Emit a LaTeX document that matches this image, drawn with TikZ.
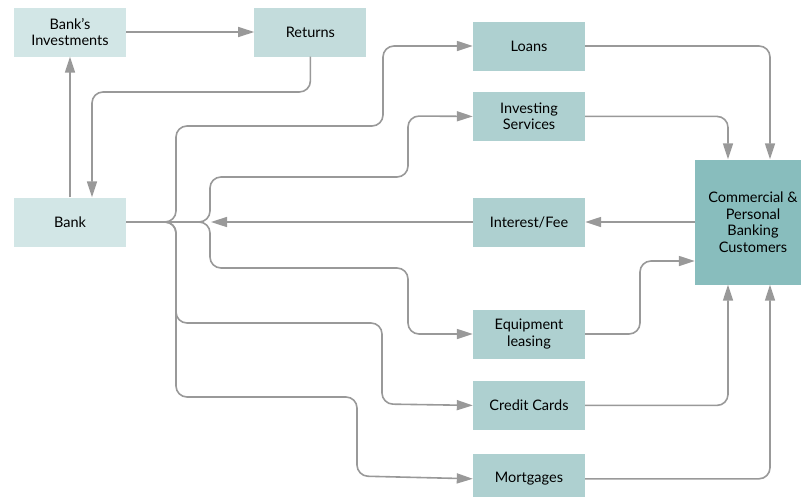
\documentclass[tikz,border=0pt]{standalone}
\usepackage{fontspec}
\setmainfont{Lato}
\usetikzlibrary{arrows.meta, positioning}
\definecolor{boxlight}{HTML}{D2E6E6}
\definecolor{boxret}{HTML}{C3DCDC}
\definecolor{boxmid}{HTML}{AED0D0}
\definecolor{boxdark}{HTML}{88BDBD}
\definecolor{linegray}{HTML}{999999}
\tikzset{
    %Define standard arrow tip
    >={Triangle[length=16pt,width=10pt]},
    %Define style for boxes
    punkt/.style={
           rectangle,
           fill=boxmid,
           minimum width=112pt,
           minimum height=49pt,
           align=center,
           font=\fontsize{14.5}{16.5}\selectfont},
    % Define arrow style
    pil/.style={
           ->,
           draw=linegray,
           line width=1.6pt,
           rounded corners=11pt}
}

\begin{document}
\begin{tikzpicture}[x=1pt, y=-1pt]
\useasboundingbox (0,0) rectangle (801,496);

% Boxes on the left
\node[punkt, fill=boxlight] (bankinv) at (70,32) {Bank’s\\Investments};
\node[punkt, fill=boxret] (returns) [right = 128pt of bankinv] {Returns};
\node[punkt, fill=boxlight] (bank) at (70,222) {Bank};
% Products
\node[punkt] (loans) at (529,46) {Loans};
\node[punkt] (invserv) [below = 21pt of loans] {Investing\\Services};
\node[punkt] (interest) at (529,222) {Interest/Fee};
\node[punkt] (equip) at (529,334) {Equipment\\leasing};
\node[punkt] (credit) [below = 22pt of equip] {Credit Cards};
\node[punkt] (mort) [below = 24pt of credit] {Mortgages};
% Customers
\node[punkt, fill=boxdark, minimum width=116pt, minimum height=125pt] (cust) at (753,222) {Commercial \&\\Personal\\Banking\\Customers};

\coordinate (retdown) at (92,92);
\coordinate (merge) at (211,222);

% top loop
\draw[pil] (bankinv.east) -- (returns.west);
\draw[pil] (bank.north) -- (bankinv.south);
\draw[pil] (returns.south) |- (retdown) -- (retdown |- bank.north);

% bank to products
\draw[pil] (bank.east) -| (176,126) -| (383,46) -- (loans.west);
\draw[pil] (bank.east) -| (210,177) -| (408,116) -- (invserv.west);
\draw[pil] (bank.east) -| (210,268) -| (408,334) -- (equip.west);
\draw[pil] (bank.east) -| (176,323) -| (382,404) -- (credit.west);
\draw[pil] (bank.east) -| (176,397) -| (357,476) -- (mort.west);

% products to customers
\draw[pil] (loans.east) -| ([xshift=17pt]cust.north);
\draw[pil] (invserv.east) -| ([xshift=-25pt]cust.north);
\draw[pil] (equip.east) -| (640,261) -- ([yshift=-39pt]cust.west);
\draw[pil] (credit.east) -| ([xshift=-25pt]cust.south);
\draw[pil] (mort.east) -| ([xshift=17pt]cust.south);

% fees back to bank
\draw[pil] (cust.west) -- (interest.east);
\draw[pil] (interest.west) -- (merge);

\end{tikzpicture}
\end{document}
